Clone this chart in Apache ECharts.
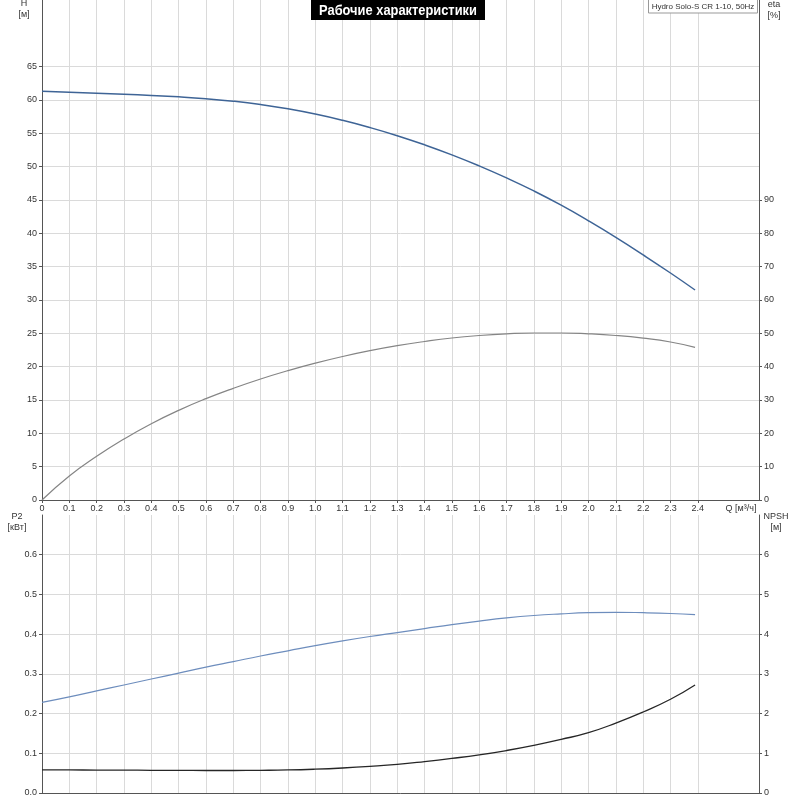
<!DOCTYPE html>
<html>
<head>
<meta charset="utf-8">
<script src="https://cdn.jsdelivr.net/npm/echarts@6/dist/echarts.min.js"></script>
<style>
html,body{margin:0;padding:0;background:#fff;}
#chart{width:800px;height:800px;}
</style>
</head>
<body>
<div id="chart"></div>
<script>
// ---- data ----
const qValues = [0,0.1,0.2,0.3,0.4,0.5,0.6,0.7,0.8,0.9,1.0,1.1,1.2,1.3,1.4,1.5,1.6,1.7,1.8,1.9,2.0,2.1,2.2,2.3,2.39];
const headH = [61.3,61.17,61.03,60.87,60.69,60.47,60.19,59.82,59.32,58.68,57.89,56.95,55.87,54.65,53.28,51.77,50.11,48.31,46.36,44.22,41.88,39.4,36.77,34.05,31.5];
const etaPct = [0,7.2,13.1,18.3,22.9,26.9,30.4,33.5,36.3,38.8,41.05,43.05,44.8,46.3,47.55,48.6,49.35,49.85,50.1,50.1,49.85,49.35,48.55,47.4,45.8];
const powerP2 = [0.228,0.242,0.257,0.272,0.287,0.302,0.317,0.331,0.345,0.358,0.371,0.383,0.394,0.404,0.414,0.424,0.433,0.441,0.447,0.451,0.454,0.455,0.454,0.452,0.449];
const npshM = [0.58,0.58,0.578,0.575,0.572,0.569,0.567,0.567,0.571,0.58,0.60,0.63,0.67,0.72,0.79,0.87,0.96,1.07,1.20,1.35,1.52,1.76,2.04,2.36,2.72];

const xTickLabels = [0,0.1,0.2,0.3,0.4,0.5,0.6,0.7,0.8,0.9,1.0,1.1,1.2,1.3,1.4,1.5,1.6,1.7,1.8,1.9,2.0,2.1,2.2,2.3,2.4];
const hTickLabels = [0,5,10,15,20,25,30,35,40,45,50,55,60,65];
const etaTickLabels = [0,10,20,30,40,50,60,70,80,90];
const p2TickLabels = [0,0.1,0.2,0.3,0.4,0.5,0.6];
const npshTickLabels = [0,1,2,3,4,5,6];

const titleText = 'Рабочие характеристики';
const legendText = 'Hydro Solo-S CR 1-10, 50Hz';

const pair = (ys) => qValues.map((q, i) => [q, ys[i]]);

const FONT = "'Liberation Sans', Arial, sans-serif";
const gridColor = '#dadada';
const axisColor = '#555555';
const labelStyle = {fontSize: 9, color: '#333', fontFamily: FONT};

const L = 42, W = 717, XMAX = 2.624;

function xAxisDef(gridIndex, showLabels) {
  return {
    type: 'value', gridIndex, min: 0, max: XMAX, interval: 0.1,
    axisLine: {show: true, onZero: false, lineStyle: {color: axisColor, width: 1}},
    axisTick: {show: showLabels, length: 3, customValues: xTickLabels, lineStyle: {color: axisColor}},
    axisLabel: Object.assign({show: showLabels, margin: 4, customValues: xTickLabels,
      formatter: v => (v === 0 ? '0' : v.toFixed(1))}, labelStyle),
    splitLine: {show: true, lineStyle: {color: gridColor, width: 1}}
  };
}
function yAxisDef(gridIndex, pos, max, interval, labels, fmt, split) {
  return {
    type: 'value', gridIndex, position: pos, min: 0, max, interval,
    axisLine: {show: true, lineStyle: {color: axisColor, width: 1}},
    axisTick: {show: true, length: 3, customValues: labels, lineStyle: {color: axisColor}},
    axisLabel: Object.assign({margin: 5, customValues: labels, formatter: fmt}, labelStyle),
    splitLine: {show: split, lineStyle: {color: gridColor, width: 1}}
  };
}

const chart = echarts.init(document.getElementById('chart'), null, {renderer: 'canvas'});
const nameText = (x, y, t) => ({type: 'text', x, y, z: 101,
  style: {text: t, fill: '#333', fontSize: 9, fontFamily: FONT, align: 'center', verticalAlign: 'middle'}});
chart.setOption({
  animation: false,
  backgroundColor: '#fff',
  grid: [
    {left: L, top: 0, width: W, height: 500},
    {left: L, top: 515, width: W, height: 278}
  ],
  xAxis: [xAxisDef(0, true), xAxisDef(1, false)],
  yAxis: [
    yAxisDef(0, 'left', 75, 5, hTickLabels, v => String(v), true),
    yAxisDef(0, 'right', 150, 10, etaTickLabels, v => String(v), false),
    yAxisDef(1, 'left', 0.7, 0.1, p2TickLabels, v => v.toFixed(1), true),
    yAxisDef(1, 'right', 7, 1, npshTickLabels, v => String(Math.round(v)), false)
  ],
  series: [
    {name: 'H', type: 'line', xAxisIndex: 0, yAxisIndex: 0, data: pair(headH), smooth: 0.5,
     showSymbol: false, lineStyle: {color: '#3e6496', width: 1.5}},
    {name: 'eta', type: 'line', xAxisIndex: 0, yAxisIndex: 1, data: pair(etaPct), smooth: 0.5,
     showSymbol: false, lineStyle: {color: '#858585', width: 1.2}},
    {name: 'P2', type: 'line', xAxisIndex: 1, yAxisIndex: 2, data: pair(powerP2), smooth: 0.5,
     showSymbol: false, lineStyle: {color: '#6d8dbd', width: 1.2}},
    {name: 'NPSH', type: 'line', xAxisIndex: 1, yAxisIndex: 3, data: pair(npshM), smooth: 0.5,
     showSymbol: false, lineStyle: {color: '#262626', width: 1.3}}
  ],
  graphic: [
    {type: 'rect', shape: {x: 311, y: 0, width: 174, height: 20}, style: {fill: '#000'}, z: 100},
    {type: 'text', x: 398, y: 10.5, z: 101, scaleX: 0.83, style: {text: titleText, fill: '#fff', fontSize: 15.5, fontWeight: 'bold',
      fontFamily: FONT, align: 'center', verticalAlign: 'middle'}},
    {type: 'rect', shape: {x: 648.5, y: -1, width: 109, height: 14}, style: {fill: '#fff', stroke: '#999', lineWidth: 1}, z: 100},
    {type: 'text', x: 703, y: 6.5, z: 101, style: {text: legendText, fill: '#333', fontSize: 8, fontFamily: FONT, align: 'center', verticalAlign: 'middle'}},
    nameText(24, 4, 'H'),
    nameText(24, 15, '[м]'),
    nameText(774, 5, 'eta'),
    nameText(774, 16, '[%]'),
    nameText(17, 517, 'P2'),
    nameText(17, 528, '[кВт]'),
    nameText(776, 517, 'NPSH'),
    nameText(776, 528, '[м]'),
    nameText(741, 508.5, 'Q [м³/ч]')
  ]
});
</script>
</body>
</html>
